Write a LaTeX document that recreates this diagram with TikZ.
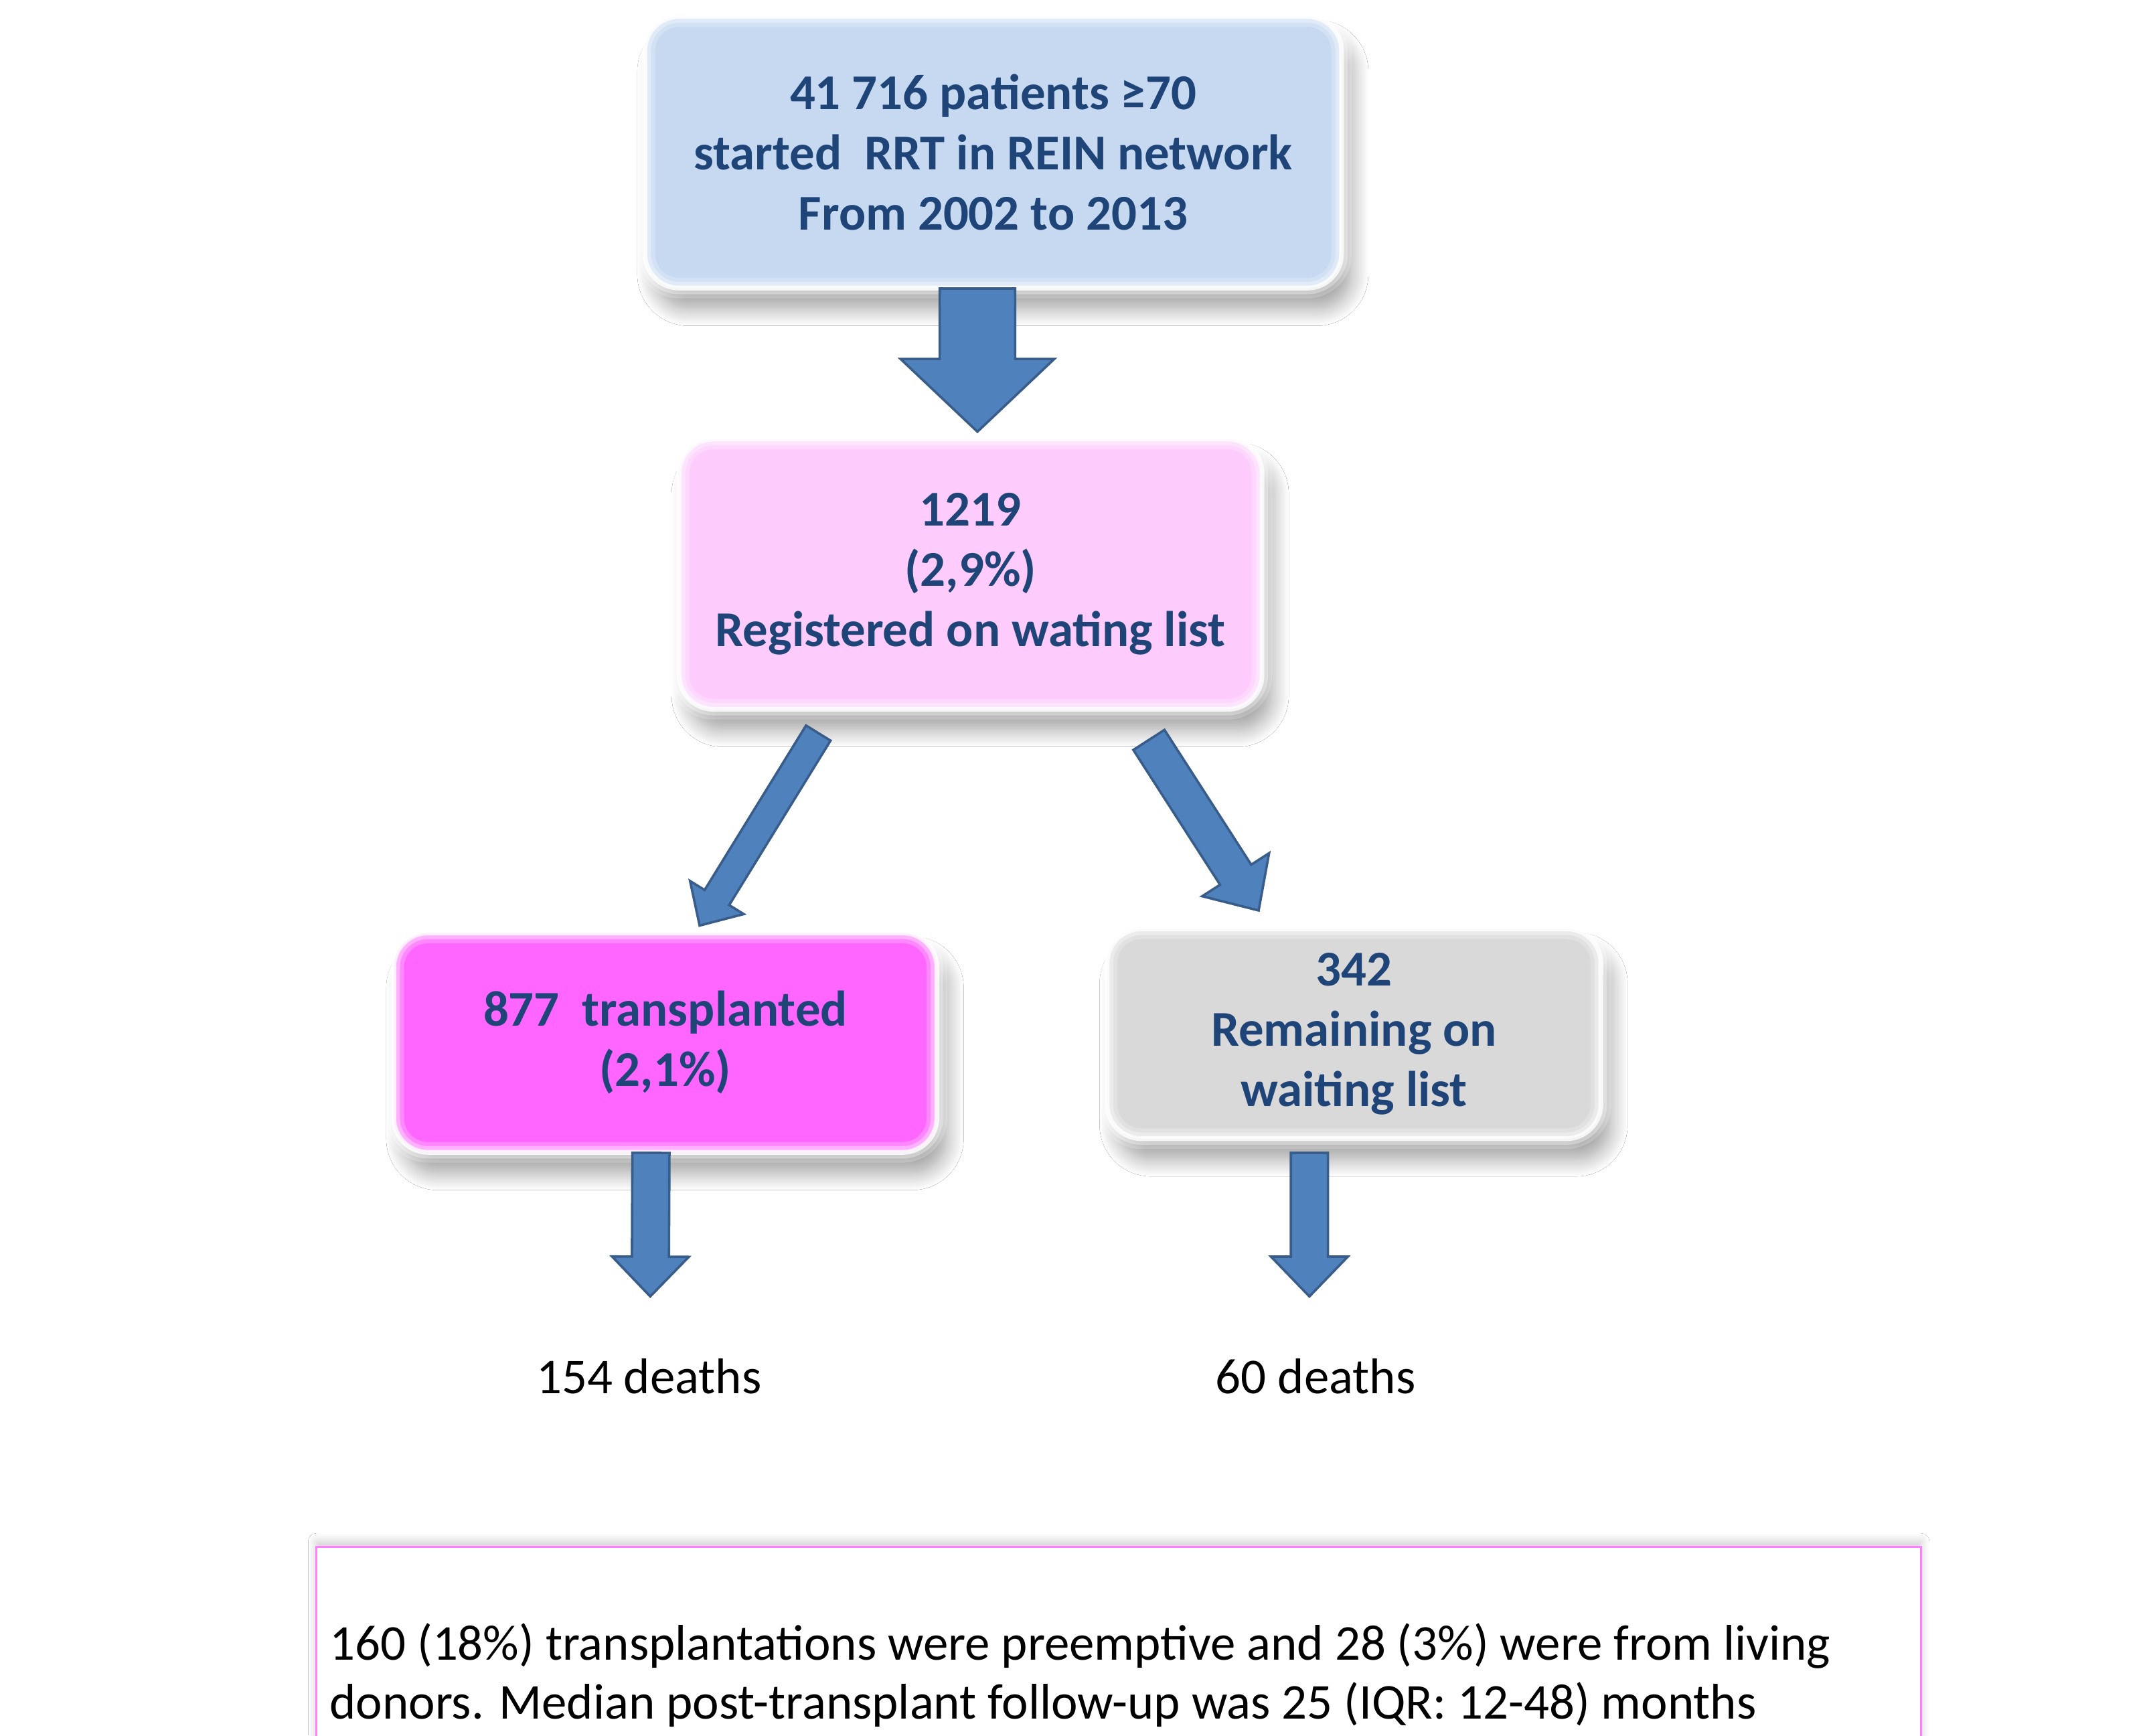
\documentclass[tikz,border=0pt]{standalone}
\usepackage{fontspec}
\setmainfont{Carlito}
\usetikzlibrary{calc,shadows.blur}
\definecolor{tx}{HTML}{1F4478}
\definecolor{cblue}{HTML}{C6D9F1}
\definecolor{cpink}{HTML}{FDCCFD}
\definecolor{cmag}{HTML}{FF66FF}
\definecolor{cgray}{HTML}{D9D9D9}
\definecolor{afill}{HTML}{4F81BD}
\definecolor{aline}{HTML}{385D8A}
\definecolor{nline}{HTML}{FF80FF}
\tikzset{
  box/.style={rounded corners=0.5cm, align=center, text=tx, inner sep=0pt,
    font=\bfseries\fontsize{20.8}{25}\selectfont,
    blur shadow={shadow xshift=0.14cm, shadow yshift=-0.3cm, shadow blur radius=0.25cm, shadow blur steps=16, shadow opacity=38},
    postaction={draw=white, line width=0.3cm, opacity=0.22},
    postaction={draw=white, line width=0.18cm, opacity=0.35},
    postaction={draw=white, line width=0.07cm, opacity=0.8}},
  barrow/.style={fill=afill, draw=aline, line width=0.035cm, line join=miter},
  deathlbl/.style={font=\fontsize{20.8}{24}\selectfont, text=black, inner sep=0pt},
  notebox/.style={draw=nline, line width=0.025cm, fill=white,
    blur shadow={shadow xshift=0cm, shadow yshift=0.08cm, shadow blur radius=0.12cm, shadow blur steps=8, shadow opacity=20}},
}
% tail, tip, shaft half width, head half width, head length (all in picture units)
\newcommand{\blockarrow}[5]{%
  \coordinate (bC) at ($(#2)!#5*0.02cm!(#1)$);
  \draw[barrow] ($(#1)!#3*0.02cm!90:(#2)$) -- ($(bC)!#3*0.02cm!-90:(#1)$)
    -- ($(bC)!#4*0.02cm!-90:(#1)$) -- (#2) -- ($(bC)!#4*0.02cm!90:(#1)$)
    -- ($(bC)!#3*0.02cm!90:(#1)$) -- ($(#1)!#3*0.02cm!-90:(#2)$) -- cycle;
}
\begin{document}
\begin{tikzpicture}[x=0.02cm,y=-0.02cm]
\clip (0,0) rectangle (1568,1265);
\fill[white] (0,0) rectangle (1568,1265);

\node[box, fill=cblue, minimum width=10.16cm, minimum height=3.96cm] (start) at (724,111)
  {41 716 patients ≥70\\started\ \ RRT in REIN network\\From 2002 to 2013};
\node[box, fill=cpink, minimum width=8.5cm, minimum height=3.94cm] (mid) at (707.5,418.5)
  {1219\\(2,9\%)\\Registered on wating list};
\node[box, fill=cmag, minimum width=7.92cm, minimum height=3.2cm] (trans) at (485,760)
  {877\ \ transplanted\\(2,1\%)};
\node[box, fill=cgray, minimum width=7.2cm, minimum height=3.06cm] (remain) at (987,753.5)
  {342\\Remaining on\\waiting list};

\node[deathlbl] (d1) at (473,1003) {154 deaths};
\node[deathlbl] (d2) at (959,1003) {60 deaths};

\node[notebox, anchor=north west, minimum width=23.4cm, minimum height=3.6cm] (note) at (230,1127) {};
\node[anchor=west, align=left, inner sep=0pt, text=black, font=\fontsize{20.8}{24.5}\selectfont] (notetext) at (240,1221)
  {160 (18\%) transplantations were preemptive and 28 (3\%) were from living\\donors. Median post-transplant follow-up was 25 (IQR: 12-48) months};

\coordinate (a1s) at ($(start.south)+(-11.5,0)$);
\coordinate (a1e) at ($(mid.north)+(5,-5)$);
\coordinate (a2s) at ($(mid.south)+(-111,17)$);
\coordinate (a2e) at ($(trans.north)+(25,-5)$);
\coordinate (a3s) at ($(mid.south)+(130,22)$);
\coordinate (a3e) at ($(remain.north)+(-69.5,-13)$);
\coordinate (a4s) at ($(trans.south)+(-10.5,0)$);
\coordinate (a4e) at ($(d1.center)+(1,-58)$);
\coordinate (a5s) at ($(remain.south)+(-32.5,10)$);
\coordinate (a5e) at ($(d2.center)+(-4.5,-58)$);

\blockarrow{a1s}{a1e}{27.5}{56}{53}
\blockarrow{a2s}{a2e}{10.5}{23}{24}
\blockarrow{a3s}{a3e}{13.5}{29}{31}
\blockarrow{a4s}{a4e}{13.5}{28}{29}
\blockarrow{a5s}{a5e}{13.5}{28}{29}
\end{tikzpicture}
\end{document}
